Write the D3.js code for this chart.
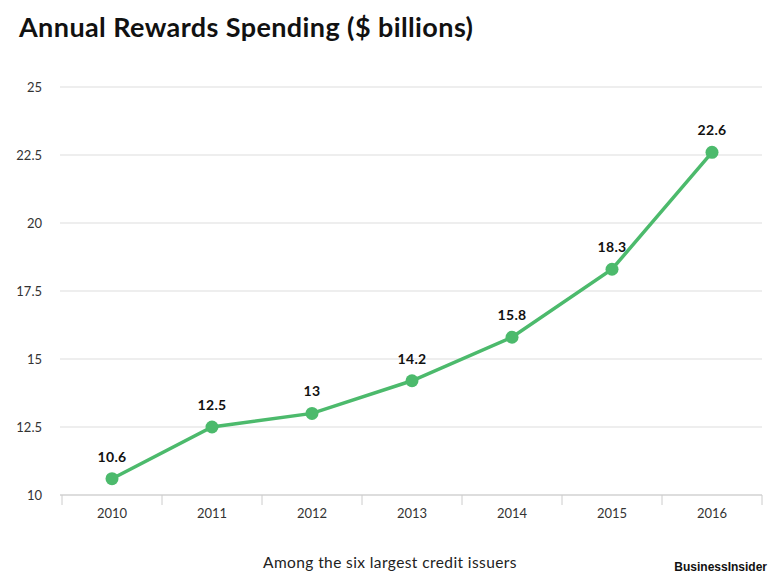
<!DOCTYPE html>
<html><head><meta charset="utf-8">
<script src="https://cdn.jsdelivr.net/npm/d3@7"></script>
<style>body{margin:0;background:#fff}</style>
</head><body>
<svg id="c" width="773" height="585"></svg>
<script>
const years = ["2010","2011","2012","2013","2014","2015","2016"];
const values = [10.6,12.5,13,14.2,15.8,18.3,22.6];
const yTicks = [10,12.5,15,17.5,20,22.5,25];

const svg = d3.select("#c");
const font = "Lato, 'Open Sans', sans-serif";
const x = d3.scaleBand().domain(years).range([62,762]);
const y = d3.scaleLinear().domain([10,25]).range([495,87]);

svg.append("text").attr("x",19).attr("y",37).attr("font-family",font)
  .attr("font-weight","bold").attr("font-size",27).attr("letter-spacing",0.4).attr("fill","#111")
  .text("Annual Rewards Spending ($ billions)");

const g = svg.append("g");
yTicks.forEach(t=>{
  g.append("line").attr("x1",60).attr("x2",762).attr("y1",y(t)).attr("y2",y(t))
   .attr("stroke", t===10?"#bbb":"#ddd").attr("stroke-width",1);
  g.append("text").attr("x",42).attr("y",y(t)+5).attr("text-anchor","end")
   .attr("font-family",font).attr("font-size",13).attr("fill","#333").text(t);
});
const xAxis = d3.axisBottom(x).tickSize(0).tickPadding(14);
const ax = svg.append("g").attr("transform","translate(0,495)").call(xAxis);
ax.select(".domain").remove();
ax.selectAll("text").attr("font-family",font).attr("font-size",13).attr("fill","#333");
years.forEach((yr,i)=>{
  svg.append("line").attr("x1",x(yr)).attr("x2",x(yr)).attr("y1",495).attr("y2",505).attr("stroke","#ccc");
});
svg.append("line").attr("x1",762).attr("x2",762).attr("y1",495).attr("y2",505).attr("stroke","#ccc");

const data = years.map((yr,i)=>({yr,v:values[i]}));
const cx = d=>x(d.yr)+x.bandwidth()/2;
svg.append("path").datum(data).attr("fill","none").attr("stroke","#4cba6c")
  .attr("stroke-width",3.5).attr("d",d3.line().x(cx).y(d=>y(d.v)));
svg.selectAll("circle").data(data).join("circle").attr("cx",cx).attr("cy",d=>y(d.v))
  .attr("r",6.5).attr("fill","#4cba6c");
svg.selectAll(".lbl").data(data).join("text").attr("x",cx).attr("y",d=>y(d.v)-17)
  .attr("text-anchor","middle").attr("font-family",font).attr("font-weight","bold")
  .attr("font-size",14).attr("letter-spacing",0.3).attr("fill","#111").text(d=>d.v);

svg.append("text").attr("x",390).attr("y",568).attr("text-anchor","middle")
  .attr("font-family",font).attr("font-size",15.5).attr("letter-spacing",0.4).attr("fill","#222")
  .text("Among the six largest credit issuers");
svg.append("text").attr("x",767).attr("y",571).attr("text-anchor","end")
  .attr("font-family","'Liberation Sans', Arial, sans-serif").attr("font-weight","bold")
  .attr("font-size",12).attr("fill","#111").text("BusinessInsider");
</script>
</body></html>
